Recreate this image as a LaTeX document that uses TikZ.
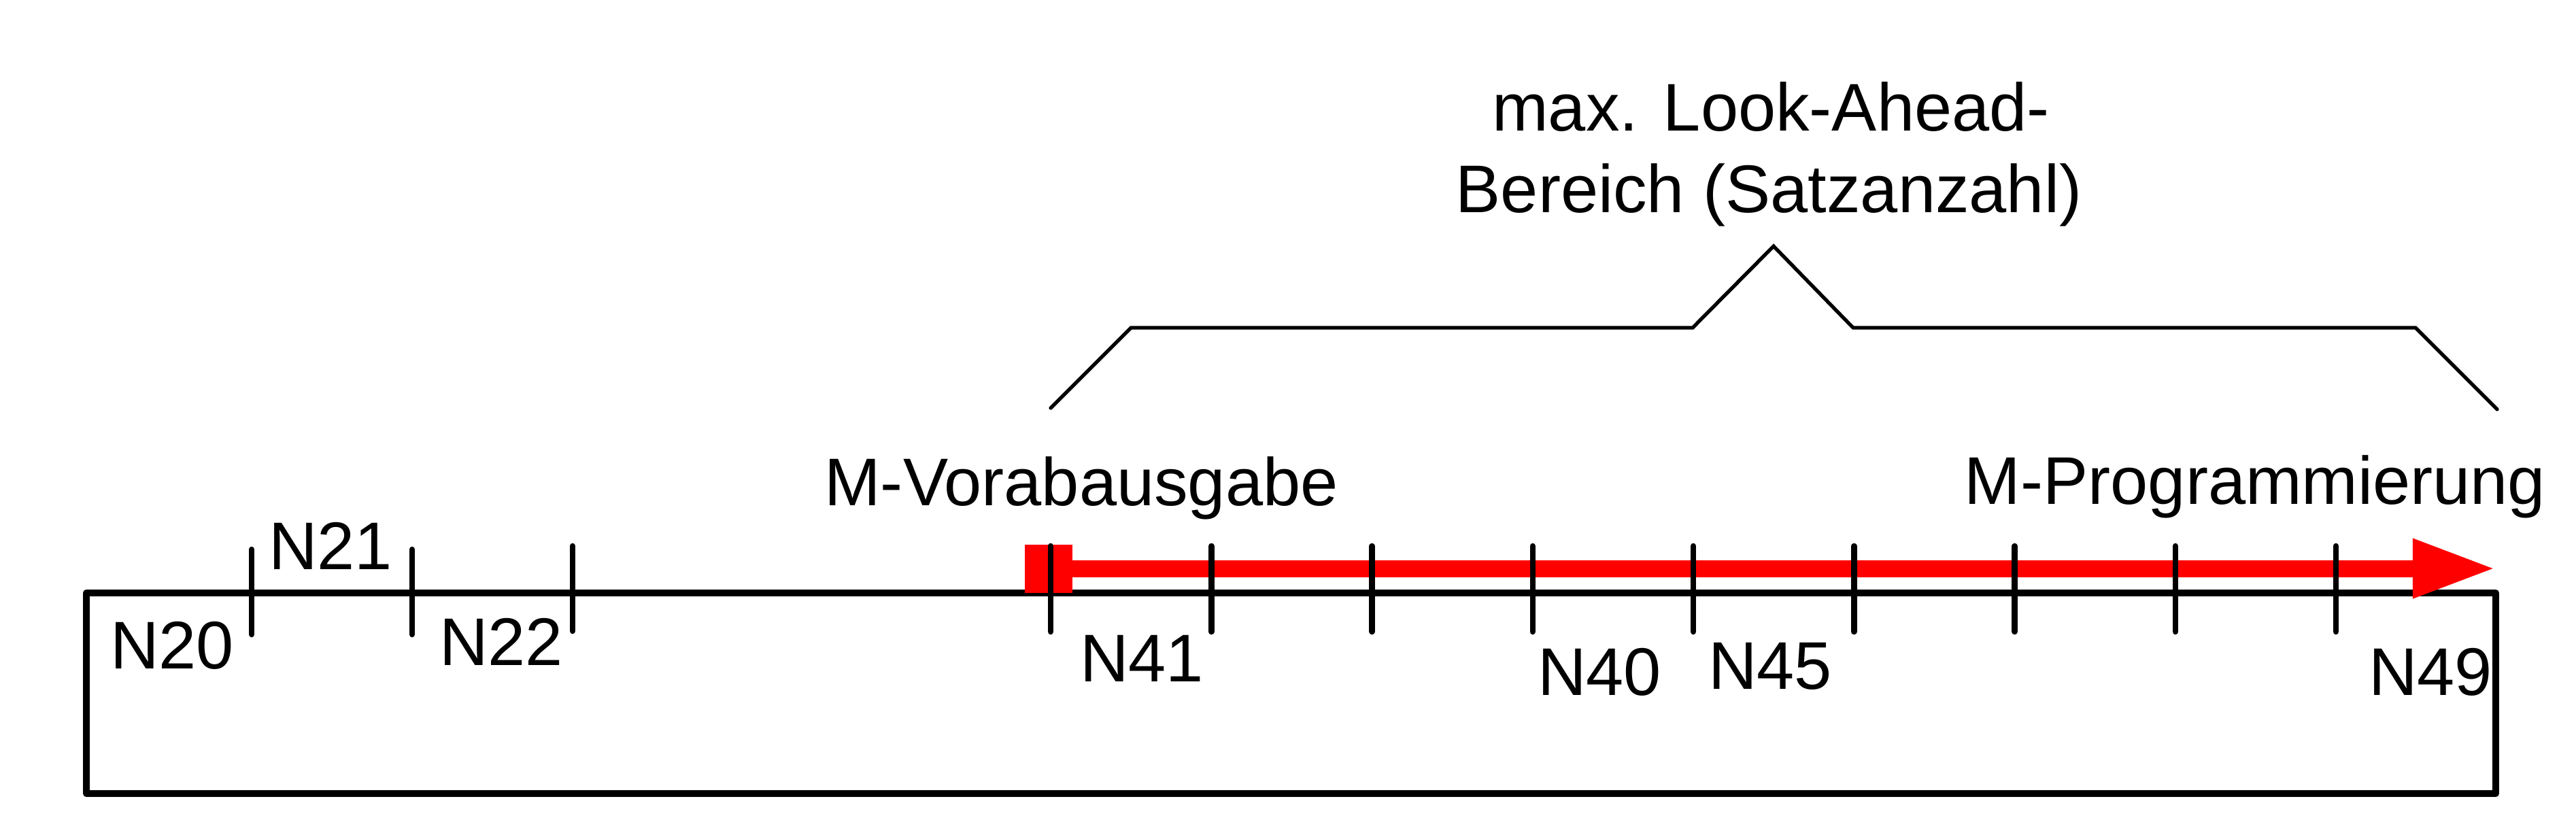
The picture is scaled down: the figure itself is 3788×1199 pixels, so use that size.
\documentclass[tikz,border=0pt]{standalone}
\usepackage{fontspec}
\setmainfont{Liberation Sans}
\usetikzlibrary{arrows.meta}

\begin{document}
\begin{tikzpicture}[x=0.01cm, y=-0.01cm,
		satz/.style={anchor=base, inner sep=0pt, font=\fontsize{28.2pt}{34pt}\selectfont},
		strich/.style={line width=0.085cm, line cap=round}]
		\useasboundingbox (0,0) rectangle (3788,1199);
		\filldraw[white] (0,0) rectangle (3788,1199);

		% Satzfolge
		\draw[line width=0.1cm, line join=round] (127,872) rectangle (3670,1167);

		% Look-Ahead
		\fill[red] (1507,801) rectangle (1577,872);
		\coordinate (vorab) at (1577,836);
		\coordinate (prog) at (3670,836);
		\draw[red, line width=0.25cm, -{Triangle[length=1.22cm, width=0.81cm]}] (vorab) -- (prog);

		\foreach \x in {370,606} \draw[strich] (\x,808) -- (\x,933);
		\draw[strich] (842,803) -- (842,928);
		\foreach \k in {0,...,8} \draw[strich] (1545+236.25*\k,803) -- (1545+236.25*\k,929);

		\draw[line width=0.053cm, line cap=round] (1545,600) -- (1663,482) -- (2489,482) -- (2608,362)
			-- (2725,482) -- (3552,482) -- (3672,602);

		\node[satz] (n20) at (253,983) {N20};
		\node[satz] (n21) at (486,837) {N21};
		\node[satz] (n22) at (737,978) {N22};
		\node[satz] (n41) at (1679,1002) {N41};
		\node[satz] (n40) at (2352,1022) {N40};
		\node[satz] (n45) at (2603,1013) {N45};
		\node[satz] (n49) at (3574,1022) {N49};

		\node[satz] (ausgabe) at (1590,743) {M-Vorabausgabe};
		\node[satz] (programm) at (3316,741) {M-Programmierung};
		\node[satz] (bereich1) at (2604,192) {max. Look-Ahead-};
		\node[satz] (bereich2) at (2601,312) {Bereich (Satzanzahl)};

	\end{tikzpicture}
\end{document}
